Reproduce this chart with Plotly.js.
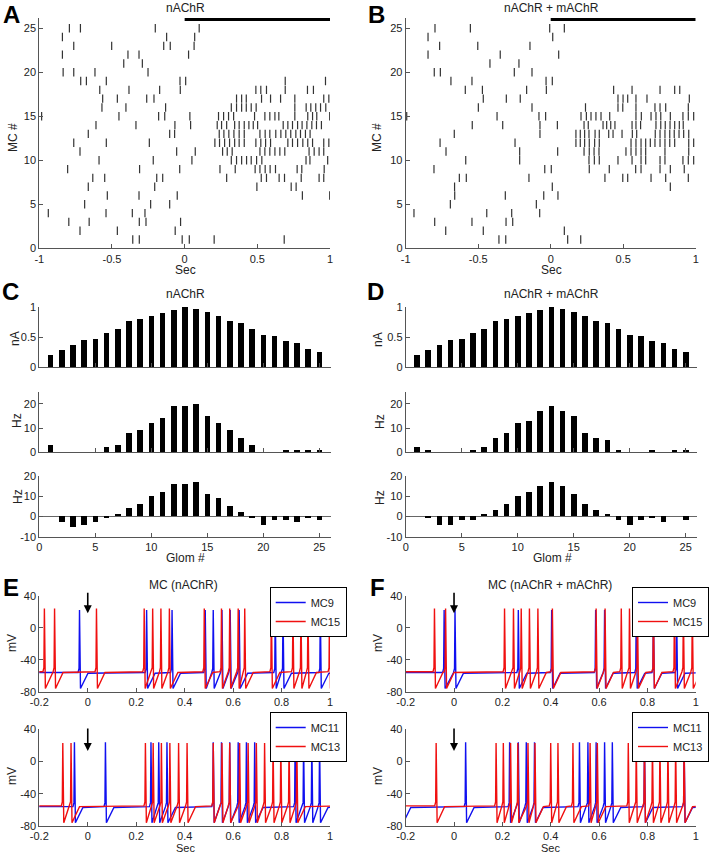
<!DOCTYPE html>
<html><head><meta charset="utf-8">
<script src="https://cdn.plot.ly/plotly-3.0.1.min.js"></script>
<style>html,body{margin:0;padding:0;background:#fff}#chart{width:711px;height:853px}</style>
</head><body><div id="chart"></div>
<script>
// ---------------- DATA ----------------
const glom = [1,2,3,4,5,6,7,8,9,10,11,12,13,14,15,16,17,18,19,20,21,22,23,24,25];
const currentC = [0.21,0.28,0.36,0.45,0.47,0.56,0.64,0.76,0.79,0.85,0.89,0.94,0.99,0.96,0.92,0.84,0.76,0.73,0.64,0.54,0.51,0.43,0.40,0.31,0.26];
const currentD = [0.21,0.28,0.36,0.45,0.47,0.56,0.64,0.76,0.79,0.85,0.89,0.94,0.99,0.96,0.92,0.84,0.76,0.73,0.64,0.54,0.51,0.43,0.40,0.31,0.26];
const rateC = [3,0,0,0,0,2,3,8,9,12,14,19,19,20,15,12,9,6,3,0,0,1,1,1,1];
const rateD = [2,1,0,0,0,1,2,6,8,12,13,17,19,17,15,8,6,5,1,0,0,1,0,1,1];
const diffC = [0,-3,-5,-4,-3,-1,1,4,6,10,12,16,16,17,11,9,5,2,-1,-4,-2,-2,-3,-1,-2];
const diffD = [0,-1,-4,-4,-2,-2,1,3,6,10,12,15,17,15,11,6,3,1,-2,-4,-2,-1,-3,0,-2];

// spike times (s) per mitral cell, MC1..MC25
const rasterA = [
 [-0.357,-0.312,-0.017,0.032,0.203,0.685],
 [-0.720,-0.463,-0.065],
 [-0.797,-0.657,-0.312,-0.266,-0.028],
 [-0.938,-0.541,-0.360,-0.273],
 [-0.688,-0.234,-0.103],
 [-0.532,-0.314,-0.051,0.810,0.998],
 [-0.663,-0.206,0.497,0.733,0.767],
 [-0.632,-0.550,-0.192,-0.151,0.289,0.527,0.563,0.650,0.687,0.802,0.925,0.957],
 [-0.805,-0.310,-0.034,0.243,0.348,0.485,0.518,0.554,0.588,0.625,0.774,0.806,0.960],
 [-0.589,-0.216,0.050,0.321,0.357,0.392,0.426,0.458,0.495,0.531,0.835,0.862,0.984],
 [-0.720,-0.055,0.073,0.261,0.293,0.327,0.518,0.552,0.586,0.621,0.655,0.689,0.856,0.891,0.925,0.957],
 [-0.763,-0.539,-0.243,0.208,0.240,0.275,0.309,0.344,0.375,0.410,0.490,0.524,0.557,0.591,0.710,0.742,0.777,0.813,0.847,0.880,0.957,0.992],
 [-0.663,-0.103,-0.069,0.238,0.270,0.304,0.339,0.375,0.410,0.518,0.554,0.586,0.627,0.662,0.696,0.730,0.765,0.797,0.831,0.863],
 [-0.610,-0.335,-0.067,0.041,0.224,0.254,0.289,0.344,0.375,0.410,0.442,0.472,0.502,0.678,0.710,0.742,0.777,0.808,0.841,0.875,0.907,0.941],
 [-0.984,-0.452,-0.179,-0.137,0.036,0.233,0.268,0.302,0.337,0.481,0.552,0.586,0.621,0.648,0.758,0.847,0.880,0.909,0.998],
 [-0.569,-0.404,-0.131,0.321,0.357,0.392,0.424,0.458,0.492,0.758,0.836,0.868,0.902,0.935,0.971],
 [-0.564,-0.463,-0.261,-0.211,0.357,0.392,0.424,0.529,0.591,0.660,0.758,0.957,0.992],
 [-0.584,-0.383,-0.172,-0.030,0.490,0.524,0.563,0.692,0.845,0.886],
 [-0.715,-0.676,-0.539,-0.032,0.007,0.692,0.969],
 [-0.836,-0.763,-0.617,-0.252],
 [-0.419,-0.291],
 [-0.841,-0.390,-0.314,0.027],
 [-0.763,-0.502,-0.144,-0.099,0.065],
 [-0.841,-0.124,0.069],
 [-0.793,-0.717,-0.202,0.100]
];
const rasterB = [
 [-0.357,-0.310,0.117,0.207],
 [-0.724,-0.465,0.094],
 [-0.800,-0.543,-0.308,-0.262],
 [-0.943,-0.441,-0.269,-0.076],
 [-0.692,-0.099],
 [-0.662,-0.313,-0.048,0.050],
 [-0.663,0.011,0.825],
 [-0.630,-0.582,-0.150,0.374,0.497,0.531,0.692,0.793,0.949],
 [-0.805,-0.041,0.004,0.266,0.404,0.586,0.623,0.754,0.825,0.921],
 [-0.586,-0.214,0.264,0.301,0.335,0.464,0.561,0.623,0.655,0.754,0.788,0.912,0.949,0.986],
 [-0.722,-0.214,0.048,0.230,0.266,0.299,0.333,0.519,0.554,0.588,0.623,0.655,0.788,0.952],
 [-0.763,-0.246,0.174,0.204,0.234,0.266,0.303,0.335,0.554,0.588,0.623,0.655,0.687,0.719,0.754,0.788,0.821,0.855,0.952,0.986],
 [-0.665,-0.074,0.174,0.204,0.234,0.264,0.306,0.335,0.400,0.430,0.492,0.563,0.593,0.721,0.754,0.788,0.821,0.852,0.885,0.917,0.952],
 [-0.541,-0.331,-0.074,0.046,0.230,0.259,0.361,0.386,0.414,0.443,0.561,0.588,0.620,0.726,0.759,0.790,0.823,0.855,0.887,0.914],
 [-0.993,-0.370,-0.081,-0.035,0.209,0.246,0.278,0.312,0.347,0.407,0.588,0.625,0.692,0.726,0.759,0.825,0.912,0.949,0.986],
 [-0.499,-0.129,0.240,0.464,0.497,0.588,0.719,0.754,0.793,0.949],
 [-0.465,-0.306,-0.210,0.464,0.499,0.531,0.588,0.664,0.956],
 [-0.589,-0.471,-0.166,-0.030,0.434,0.561,0.754,0.855,0.890],
 [-0.688,-0.543,-0.032,0.011],
 [-0.803,-0.761,-0.251,-0.129],
 [-0.419,-0.219],
 [-0.846,-0.348,0.055],
 [-0.766,-0.503,-0.143],
 [-0.846,0.014],
 [-0.798,-0.554,-0.007,0.094]
];
const stimWindow = [0, 1];
const stimLevel = [26, 26];
const arrowTime = 0;
const cellsTop = ['MC9', 'MC15'];
const cellsBottom = ['MC11', 'MC13'];
const rasterTicks = [-1, -0.5, 0, 0.5, 1];
const rasterTickText = ['-1', '-0.5', '0', '0.5', '1'];
const traceTicks = [-0.2, 0, 0.2, 0.4, 0.6, 0.8, 1];
const traceTickText = ['-0.2', '0', '0.2', '0.4', '0.6', '0.8', '1'];
const mvTicks = [-80, -40, 0, 40];
const mvTickText = ['-80', '-40', '0', '40'];
const diffTicks = [-10, 0, 10, 20];
const diffTickText = ['-10', '0', '10', '20'];

// ---------------- BUILD ----------------
const W = 711, H = 853;
const FONT = 'Liberation Sans, Arial, Helvetica, sans-serif';
const px = v => v / W;
const py = v => 1 - v / H;
const BLUE = '#1010f0', RED = '#f01010';

function rasterTrace(raster, xa, ya) {
  const x = [], y = [];
  raster.forEach((row, i) => row.forEach(t => { x.push(t); y.push(i + 1); }));
  return {type: 'scatter', mode: 'markers', x, y, xaxis: xa, yaxis: ya, showlegend: false, hoverinfo: 'skip',
    marker: {symbol: 'line-ns-open', size: 6, color: '#333', line: {width: 1.2, color: '#333'}}};
}
function stimTrace(xa, ya) {
  return {type: 'scatter', mode: 'lines', x: stimWindow, y: stimLevel, xaxis: xa, yaxis: ya, showlegend: false,
    hoverinfo: 'skip', line: {color: '#000', width: 3}};
}
function barTrace(vals, xa, ya) {
  return {type: 'bar', x: glom, y: vals, xaxis: xa, yaxis: ya, width: 0.5, showlegend: false,
    marker: {color: '#000', line: {width: 0}}, hoverinfo: 'skip'};
}
// membrane potential drawn through the spike times of the cell
function vmTrace(spikes, peak, base, color, name, xa, ya, legend) {
  const x = [-0.25], y = [base];
  const s = spikes.filter(t => t > -0.3);
  s.forEach((t, i) => {
    const next = i + 1 < s.length ? s[i + 1] : 1.2;
    if (x[x.length - 1] < t - 0.006) { x.push(t - 0.006); y.push(base); }
    x.push(t - 0.002); y.push(base + 5);
    x.push(t); y.push(peak);
    x.push(t + 0.004); y.push(-76);
    if (t + 0.035 < next - 0.006) { x.push(t + 0.035); y.push(base - 1); }
  });
  x.push(1.05); y.push(base);
  return {type: 'scatter', mode: 'lines', x, y, xaxis: xa, yaxis: ya, name, legend,
    line: {color, width: 1.4}, hoverinfo: 'skip'};
}

const data = [
  rasterTrace(rasterA, 'x', 'y'), stimTrace('x', 'y'),
  rasterTrace(rasterB, 'x2', 'y2'), stimTrace('x2', 'y2'),
  barTrace(currentC, 'x3', 'y3'), barTrace(rateC, 'x4', 'y4'), barTrace(diffC, 'x5', 'y5'),
  barTrace(currentD, 'x6', 'y6'), barTrace(rateD, 'x7', 'y7'), barTrace(diffD, 'x8', 'y8'),
  vmTrace(rasterA[8], 22, -56, BLUE, cellsTop[0], 'x9', 'y9', 'legend'),
  vmTrace(rasterA[14], 24, -55, RED, cellsTop[1], 'x9', 'y9', 'legend'),
  vmTrace(rasterA[10], 24, -56, BLUE, cellsBottom[0], 'x10', 'y10', 'legend2'),
  vmTrace(rasterA[12], 23, -55, RED, cellsBottom[1], 'x10', 'y10', 'legend2'),
  vmTrace(rasterB[8], 22, -56, BLUE, cellsTop[0], 'x11', 'y11', 'legend3'),
  vmTrace(rasterB[14], 24, -55, RED, cellsTop[1], 'x11', 'y11', 'legend3'),
  vmTrace(rasterB[10], 24, -56, BLUE, cellsBottom[0], 'x12', 'y12', 'legend4'),
  vmTrace(rasterB[12], 23, -55, RED, cellsBottom[1], 'x12', 'y12', 'legend4')
];

const base = {showline: true, linecolor: '#555', linewidth: 1, ticks: 'inside', ticklen: 4, tickcolor: '#555',
  showgrid: false, zeroline: false, automargin: false, fixedrange: true,
  tickfont: {family: FONT, size: 11, color: '#222'}};
const A = o => Object.assign({}, base, o);

const leftX = [px(39.3), px(330)], rightX = [px(405.7), px(695.7)];
const leftXb = [px(39.3), px(330.5)], rightXb = [px(405.7), px(696.9)];
const rasterY = [py(248.3), py(17.7)];
const cTop = [py(367.3), py(306.7)], cMid = [py(452.3), py(391.7)], cBot = [py(536.7), py(475.7)];
const eTop = [py(691.7), py(595.7)], eBot = [py(826), py(729.3)];

const layout = {
  width: W, height: H, margin: {l: 0, r: 0, t: 0, b: 0}, paper_bgcolor: '#fff', plot_bgcolor: '#fff',
  font: {family: FONT, color: '#222'}, bargap: 0, showlegend: true,
  // rasters
  xaxis: A({domain: leftX, anchor: 'y', range: [-1, 1], tickvals: rasterTicks, ticktext: rasterTickText}),
  yaxis: A({domain: rasterY, anchor: 'x', range: [0, 26.2], tickvals: [0,5,10,15,20,25]}),
  xaxis2: A({domain: rightX, anchor: 'y2', range: [-1, 1], tickvals: rasterTicks, ticktext: rasterTickText}),
  yaxis2: A({domain: rasterY, anchor: 'x2', range: [0, 26.2], tickvals: [0,5,10,15,20,25]}),
  // C
  xaxis3: A({domain: leftXb, anchor: 'y3', range: [0, 26], tickvals: [0,5,10,15,20,25], showticklabels: false}),
  yaxis3: A({domain: cTop, anchor: 'x3', range: [0, 1], tickvals: [0, 0.5, 1]}),
  xaxis4: A({domain: leftXb, anchor: 'y4', range: [0, 26], tickvals: [0,5,10,15,20,25], showticklabels: false}),
  yaxis4: A({domain: cMid, anchor: 'x4', range: [0, 25], tickvals: [0, 10, 20]}),
  xaxis5: A({domain: leftXb, anchor: 'y5', range: [0, 26], tickvals: [0,5,10,15,20,25]}),
  yaxis5: A({domain: cBot, anchor: 'x5', range: [-10, 20], tickvals: diffTicks, ticktext: diffTickText, zeroline: true, zerolinecolor: '#666', zerolinewidth: 1}),
  // D
  xaxis6: A({domain: rightXb, anchor: 'y6', range: [0, 26], tickvals: [0,5,10,15,20,25], showticklabels: false}),
  yaxis6: A({domain: cTop, anchor: 'x6', range: [0, 1], tickvals: [0, 0.5, 1]}),
  xaxis7: A({domain: rightXb, anchor: 'y7', range: [0, 26], tickvals: [0,5,10,15,20,25], showticklabels: false}),
  yaxis7: A({domain: cMid, anchor: 'x7', range: [0, 25], tickvals: [0, 10, 20]}),
  xaxis8: A({domain: rightXb, anchor: 'y8', range: [0, 26], tickvals: [0,5,10,15,20,25]}),
  yaxis8: A({domain: cBot, anchor: 'x8', range: [-10, 20], tickvals: diffTicks, ticktext: diffTickText, zeroline: true, zerolinecolor: '#666', zerolinewidth: 1}),
  // E
  xaxis9: A({domain: leftX, anchor: 'y9', range: [-0.2, 1], tickvals: traceTicks, ticktext: traceTickText}),
  yaxis9: A({domain: eTop, anchor: 'x9', range: [-80, 40], tickvals: mvTicks, ticktext: mvTickText}),
  xaxis10: A({domain: leftX, anchor: 'y10', range: [-0.2, 1], tickvals: traceTicks, ticktext: traceTickText}),
  yaxis10: A({domain: eBot, anchor: 'x10', range: [-80, 40], tickvals: mvTicks, ticktext: mvTickText}),
  // F
  xaxis11: A({domain: rightX, anchor: 'y11', range: [-0.2, 1], tickvals: traceTicks, ticktext: traceTickText}),
  yaxis11: A({domain: eTop, anchor: 'x11', range: [-80, 40], tickvals: mvTicks, ticktext: mvTickText}),
  xaxis12: A({domain: rightX, anchor: 'y12', range: [-0.2, 1], tickvals: traceTicks, ticktext: traceTickText}),
  yaxis12: A({domain: eBot, anchor: 'x12', range: [-80, 40], tickvals: mvTicks, ticktext: mvTickText}),
  annotations: [],
};

const legendStyle = {bgcolor: '#fff', bordercolor: '#000', borderwidth: 1, font: {family: FONT, size: 11, color: '#222'},
  itemwidth: 30, tracegroupgap: 0, xanchor: 'right', yanchor: 'top', itemclick: false, itemdoubleclick: false};
layout.legend = Object.assign({}, legendStyle, {x: px(346.7), y: py(587)});
layout.legend2 = Object.assign({}, legendStyle, {x: px(346.7), y: py(712)});
layout.legend3 = Object.assign({}, legendStyle, {x: px(709), y: py(587)});
layout.legend4 = Object.assign({}, legendStyle, {x: px(709), y: py(712)});

function paperText(text, x, y, size, bold, angle) {
  layout.annotations.push({xref: 'paper', yref: 'paper', x: px(x), y: py(y), xanchor: 'center', yanchor: 'middle',
    text: bold ? '<b>' + text + '</b>' : text, showarrow: false, textangle: angle || 0,
    font: {family: FONT, size, color: bold ? '#000' : '#222'}});
}
// panel letters
paperText('A', 11, 15, 24, true);
paperText('B', 376, 15, 24, true);
paperText('C', 10, 291, 24, true);
paperText('D', 375, 291, 24, true);
paperText('E', 11, 587, 24, true);
paperText('F', 377, 587, 24, true);
// panel titles
paperText('nAChR', 185, 8, 12, false);
paperText('nAChR + mAChR', 551, 8, 12, false);
paperText('nAChR', 185, 294, 12, false);
paperText('nAChR + mAChR', 551, 294, 12, false);
paperText('MC (nAChR)', 183, 585, 12, false);
paperText('MC (nAChR + mAChR)', 550, 585, 12, false);
// axis titles
paperText('MC #', 13, 138, 12, false, -90);
paperText('MC #', 377, 138, 12, false, -90);
paperText('Sec', 185, 270, 12, false);
paperText('Sec', 551, 270, 12, false);
paperText('nA', 15, 339, 12, false, -90);
paperText('nA', 378, 339, 12, false, -90);
paperText('Hz', 17, 421, 12, false, -90);
paperText('Hz', 380, 421, 12, false, -90);
paperText('Hz', 18, 497, 12, false, -90);
paperText('Hz', 380, 497, 12, false, -90);
paperText('Glom #', 185, 558, 12, false);
paperText('Glom #', 552, 558, 12, false);
paperText('mV', 12, 643, 12, false, -90);
paperText('mV', 378, 643, 12, false, -90);
paperText('mV', 12, 776, 12, false, -90);
paperText('mV', 378, 776, 12, false, -90);
paperText('Sec', 185, 847.5, 11, false);
paperText('Sec', 550, 847.5, 11, false);

function arrow(xa, ya, tip, len) {
  layout.annotations.push({xref: xa, yref: ya, x: arrowTime, y: tip, ax: 0, ay: -len, text: '', showarrow: true,
    arrowhead: 2, arrowsize: 1, arrowwidth: 1.6, arrowcolor: '#000'});
}
arrow('x9', 'y9', 18, 22);
arrow('x10', 'y10', 13, 24);
arrow('x11', 'y11', 18, 22);
arrow('x12', 'y12', 13, 24);

Plotly.newPlot('chart', data, layout, {staticPlot: true, displayModeBar: false});
</script>
</body></html>
